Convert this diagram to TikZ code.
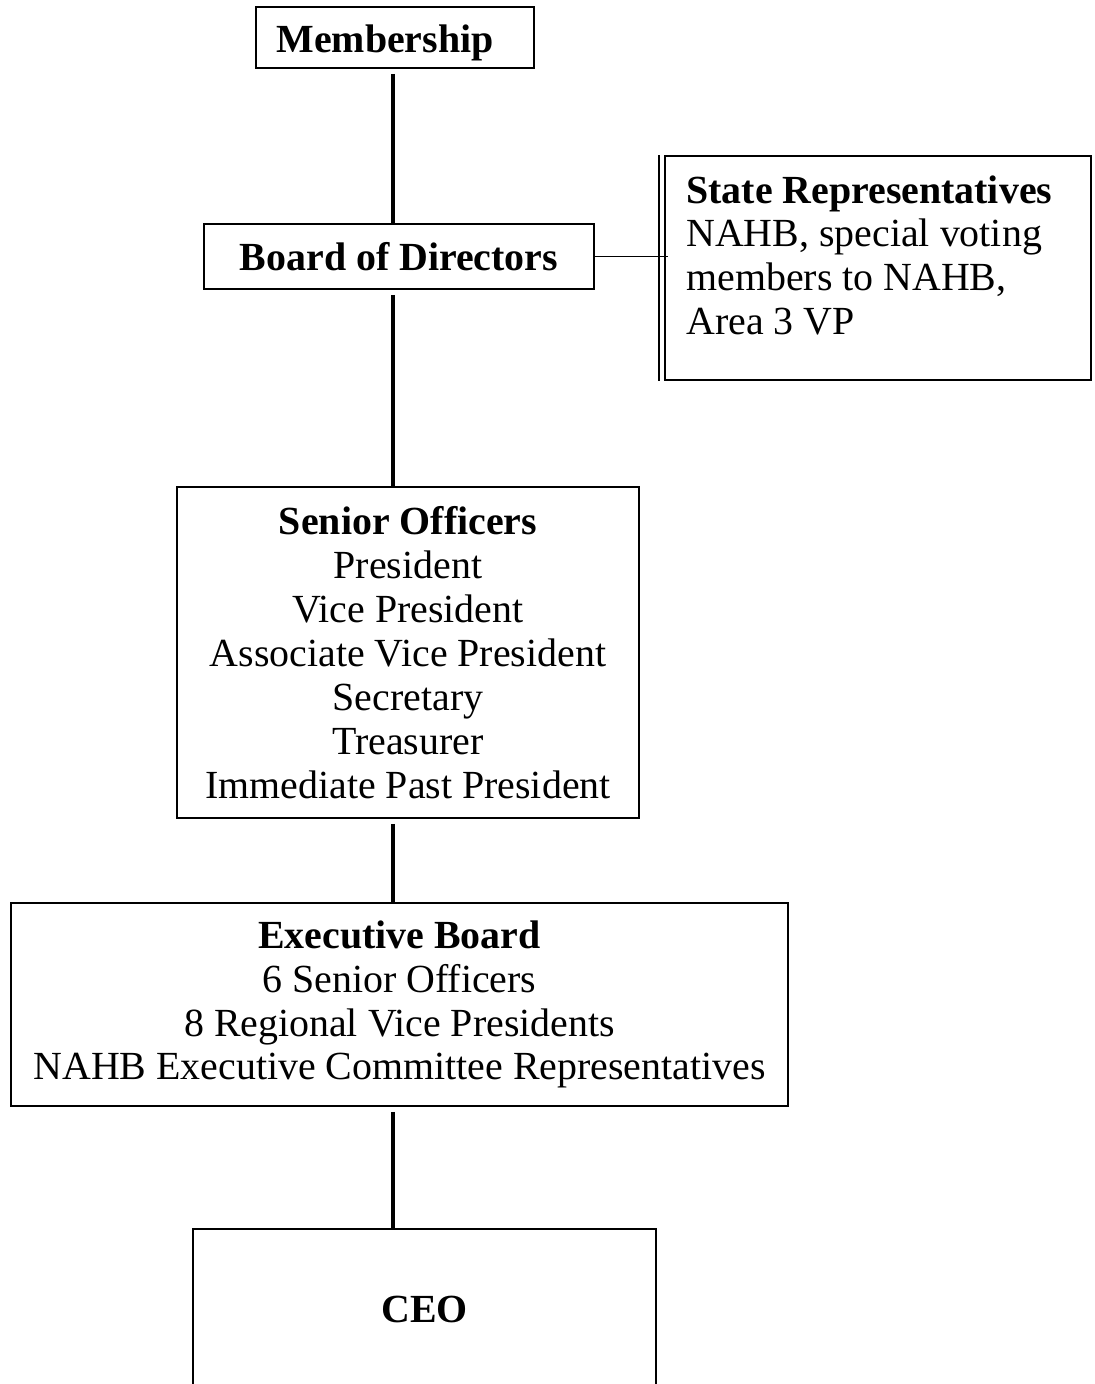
\documentclass[tikz,border=0pt]{standalone}
\usepackage{fontspec}
\setmainfont{Liberation Serif}
\tikzset{
  orgbox/.style={draw, line width=1.1pt, inner sep=0pt, align=center,
    font=\fontsize{22.7}{25}\selectfont},
  link/.style={line width=2.6pt, shorten <=0.1cm},
}

\begin{document}
\begin{tikzpicture}[x=0.02cm, y=-0.02cm]
  \useasboundingbox (0,0) rectangle (1095,1384); % page
  \coordinate (spine) at (393,0);

  \node[orgbox, minimum width=5.56cm, minimum height=1.22cm,
        label={[name=membertext, inner sep=0pt, xshift=-0.2cm, yshift=-0.1cm,
                font=\fontsize{22.7}{25}\selectfont]center:\textbf{Membership}}]
    (member) at (395,37.5) {};
  \node[orgbox, minimum width=7.8cm, minimum height=1.3cm] (board) at (399,256.5)
    {\textbf{Board of Directors}};
  \node[orgbox, minimum width=8.52cm, minimum height=4.48cm] (state) at (878,268) {};
  \node[anchor=north west, align=left, inner sep=0pt,
        font=\fontsize{22.7}{25}\selectfont] (statetext) at (686,175)
    {\textbf{State Representatives}\\ NAHB, special voting\\ members to NAHB,\\ Area 3 VP};
  \node[orgbox, minimum width=9.24cm, minimum height=6.62cm] (senior) at (408,652.5)
    {\textbf{Senior Officers}\\ President\\ Vice President\\ Associate Vice President\\
     Secretary\\ Treasurer\\ Immediate Past President};
  \node[orgbox, minimum width=15.54cm, minimum height=4.06cm] (exec) at (399.5,1004.5)
    {\textbf{Executive Board}\\ 6 Senior Officers\\ 8 Regional Vice Presidents\\
     NAHB Executive Committee Representatives};
  \node[orgbox, minimum width=9.26cm, minimum height=3.2cm] (ceo) at (424.5,1309)
    {\textbf{CEO}};

  \draw[line width=1.1pt] ([xshift=-0.1cm]state.north west) -- ([xshift=-0.1cm]state.south west);
  \draw[line width=1.1pt, shorten >=-0.08cm] (board.east) -- (state.west |- board.east);

  \draw[link] (member.south -| spine) -- (board.north -| spine);
  \draw[link] (board.south -| spine) -- (senior.north -| spine);
  \draw[link] (senior.south -| spine) -- (exec.north -| spine);
  \draw[link] (exec.south -| spine) -- (ceo.north -| spine);
\end{tikzpicture}
\end{document}
